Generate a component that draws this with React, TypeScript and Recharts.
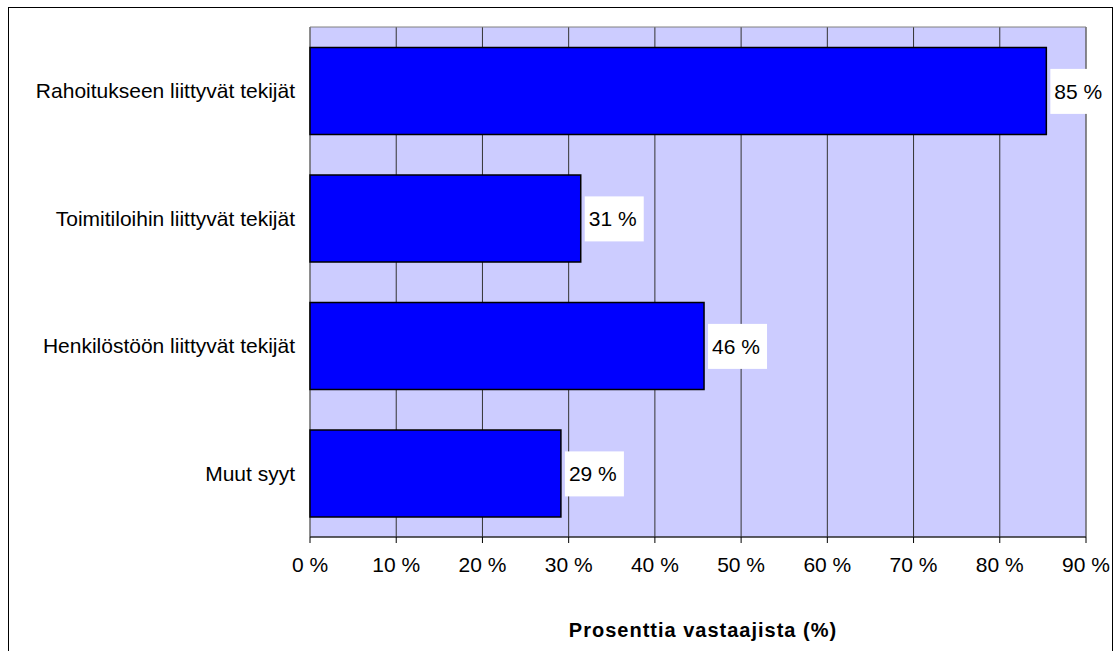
import React from 'react';
import {
    BarChart,
    Bar,
    XAxis,
    YAxis,
    CartesianGrid,
    ReferenceArea,
    LabelList,
} from 'recharts';

// Categories from top to bottom
const categories = [
    'Rahoitukseen liittyvät tekijät',
    'Toimitiloihin liittyvät tekijät',
    'Henkilöstöön liittyvät tekijät',
    'Muut syyt',
];
// Share of respondents (%)
const shares = [85.4, 31.4, 45.7, 29.1];
const xTicks = [0, 10, 20, 30, 40, 50, 60, 70, 80, 90];
const bandTicks = [0, 1, 2, 3, 4];

const data = categories.map((name, i) => ({ name, value: shares[i] }));

const FONT = 'Arial, "Liberation Sans", sans-serif';

// White box with the value, drawn just right of the bar end
const ValueLabel = (props: any) => {
    const { x, y, width, height, value } = props;
    const bx = x + width + 4;
    const cy = y + height / 2;
    return (
        <g>
            <rect x={bx} y={cy - 22} width={59} height={45} fill="#ffffff" />
            <text x={bx + 4} y={cy + 8} fontSize={21} fontFamily={FONT} fill="#000">
                {`${Math.round(value)} %`}
            </text>
        </g>
    );
};

const App: React.FC = () => {
    return (
        <div style={{ position: 'fixed', left: 0, top: 0, width: 1117, height: 651, overflow: 'hidden', background: '#fff', fontFamily: FONT }}>
            {/* chart frame */}
            <div
                style={{
                    position: 'absolute',
                    left: 8,
                    top: 7,
                    width: 1105,
                    height: 700,
                    boxSizing: 'border-box',
                    border: '1px solid #000',
                }}
            />
            <div style={{ position: 'absolute', left: 9, top: 8 }}>
                <BarChart
                    width={1103}
                    height={643}
                    data={data}
                    layout="vertical"
                    barCategoryGap="16%"
                    margin={{ top: 19, right: 26, left: 0, bottom: 4 }}
                >
                    <CartesianGrid
                        horizontal={false}
                        vertical={true}
                        stroke="#333333"
                        fill="#ccccff"
                        fillOpacity={1}
                    />
                    <ReferenceArea x1={0} x2={90} yAxisId="cat" fill="none" stroke="#808080" strokeWidth={1} ifOverflow="visible" />
                    <XAxis
                        type="number"
                        domain={[0, 90]}
                        ticks={xTicks}
                        interval={0}
                        tickFormatter={(v) => `${v} %`}
                        height={110}
                        tickSize={6}
                        tickMargin={14}
                        axisLine={{ stroke: '#000' }}
                        tickLine={{ stroke: '#000' }}
                        tick={{ fontSize: 21, fill: '#000', fontFamily: FONT }}
                        label={{
                            value: 'Prosenttia vastaajista (%)',
                            position: 'insideBottom',
                            offset: 10,
                            dx: 5,
                            style: { fontSize: 20, fontWeight: 'bold', fill: '#000', fontFamily: FONT, letterSpacing: 1 },
                        }}
                    />
                    {/* boundary ticks between categories, Excel style */}
                    <YAxis
                        yAxisId="bands"
                        type="number"
                        domain={[0, 4]}
                        ticks={bandTicks}
                        interval={0}
                        width={0}
                        tick={false}
                        tickSize={6}
                        axisLine={{ stroke: '#000' }}
                        tickLine={{ stroke: '#000' }}
                    />
                    <YAxis
                        yAxisId="cat"
                        type="category"
                        dataKey="name"
                        width={301}
                        axisLine={false}
                        tickLine={false}
                        tickSize={6}
                        tickMargin={9}
                        interval={0}
                        tick={{ fontSize: 21, fill: '#000', fontFamily: FONT }}
                    />
                    <Bar
                        yAxisId="cat"
                        dataKey="value"
                        fill="#0000ff"
                        stroke="#000"
                        strokeWidth={1.5}
                        isAnimationActive={false}
                    >
                        <LabelList dataKey="value" content={ValueLabel} />
                    </Bar>
                </BarChart>
            </div>
        </div>
    );
};

export default App;
